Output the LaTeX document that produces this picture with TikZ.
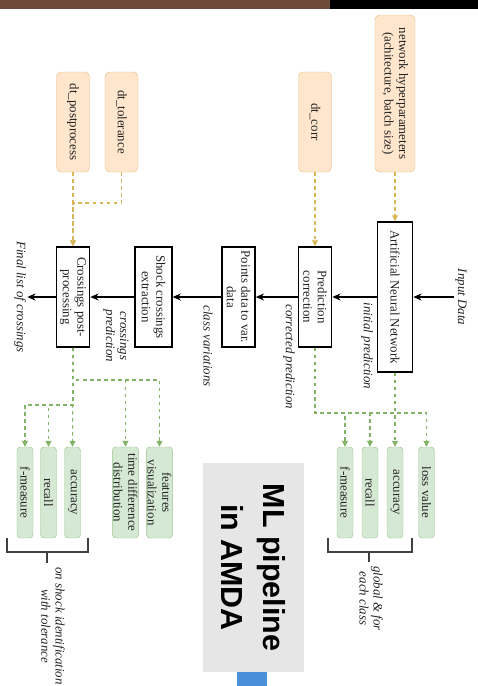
\documentclass[tikz,border=0pt]{standalone}
\usepackage{fontspec}
\setmainfont{Liberation Serif}
\newfontfamily\titlefont{Liberation Sans}
\usepackage{tikz}
\usepackage{xcolor}
\usetikzlibrary{arrows.meta, positioning, calc}
\definecolor{cBand}{HTML}{6E4A38}
\definecolor{cParam}{HTML}{FFE6CC}
\definecolor{cParamLine}{HTML}{E9BE86}
\definecolor{cParamEdge}{HTML}{D6B656}
\definecolor{cMetric}{HTML}{D5E8D4}
\definecolor{cMetricLine}{HTML}{9CC58E}
\definecolor{cMetricEdge}{HTML}{82B366}
\definecolor{cTitle}{HTML}{E6E6E6}
\definecolor{cBlue}{HTML}{4A8FD8}
\definecolor{cText}{HTML}{222222}
\tikzset{
	stage/.style ={rectangle, draw=black, line width=1.4pt, fill=white, rotate=-90, minimum width=3cm, minimum height=0.99cm, align=center, inner sep=1pt, text=cText},
	param/.style ={rectangle, rounded corners=4pt, draw=cParamLine, fill=cParam, rotate=-90, minimum width=3cm, minimum height=0.99cm, align=center, inner sep=1pt, text=cText},
	metric/.style={rectangle, rounded corners=3pt, draw=cMetricLine, fill=cMetric, rotate=-90, minimum width=2.73cm, minimum height=0.48cm, align=center, inner sep=1pt, text=cText},
	lbl/.style   ={rotate=-90, align=center, font=\fontsize{11}{12}\selectfont\itshape, text=cText, inner sep=1pt},
	title/.style ={rectangle, fill=cTitle, rotate=-90, minimum width=6.27cm, minimum height=3.03cm, align=center, font=\titlefont\bfseries\fontsize{26}{36}\selectfont},
	% connectors
	flow/.style  ={-{Stealth[length=7pt, width=6pt]}, line width=1.4pt},
	cfg/.style   ={-{Triangle[length=5pt, width=5pt]}, dash pattern=on 3pt off 3pt, draw=cParamEdge, line width=0.9pt},
	met/.style   ={-{Triangle[length=5pt, width=5pt]}, dash pattern=on 3pt off 3pt, draw=cMetricEdge, line width=0.9pt},
	brk/.style   ={draw=black!75, line width=1.2pt},
}
\begin{document}
\begin{tikzpicture}[x=0.03cm, y=-0.03cm, font=\fontsize{11}{12.5}\selectfont]
	\clip (0,0) rectangle (478,686);
	\useasboundingbox (0,0) rectangle (478,686);
	% band of the slide
	\fill[cBand] (0,0) rectangle (330,9);
	\fill[black] (330,0) rectangle (478,9);

	% main pipeline
	\node[lbl] (in) at (461,297) {Input Data};
	\node[stage, minimum width=4.5cm, minimum height=1.05cm] (ann) at (395,297) {Artificial Neural Network};
	\node[stage] (pred) at (315,297) {Prediction\\correction};
	\node[stage] (pts) at (238.5,297) {Points data to var.\\data};
	\node[stage, minimum height=1.1cm] (shock) at (153.5,297) {Shock crossings\\extraction};
	\node[stage] (cpp) at (73,297) {Crossings post-\\processing};
	\node[lbl] (out) at (20,297) {Final list of crossings};

	\draw[flow] (in) -- (ann);
	\draw[flow] (ann) -- (pred);
	\draw[flow] (pred) -- (pts);
	\draw[flow] (pts) -- (shock);
	\draw[flow] (shock) -- (cpp);
	\draw[flow] (cpp) -- (out);

	\node[lbl] at (367,346) {initial prediction};
	\node[lbl] at (289,357) {corrected prediction};
	\node[lbl] at (208,346) {class variations};
	\node[lbl] at (116,336) {crossings\\prediction};

	% parameters
	\node[param, minimum width=4.71cm, minimum height=1.2cm] (net) at (395,93.5) {network hyperparameters\\(achitecture, batch size)};
	\node[param] (corr) at (315,122) {dt\_corr};
	\node[param] (tol) at (121.5,122) {dt\_tolerance};
	\node[param] (post) at (73,122) {dt\_postprocess};
	\coordinate (j1) at (73,203);

	\draw[cfg] (net) -- (ann);
	\draw[cfg] (corr) -- (pred);
	\draw[cfg] (post) -- (cpp);
	\draw[cfg] (tol.east) |- (j1) -- (cpp);

	% metrics of the network
	\node[metric] (fm1) at (345,492.5) {f-measure};
	\node[metric] (rec1) at (370,492.5) {recall};
	\node[metric] (acc1) at (395,492.5) {accuracy};
	\node[metric] (loss) at (426.5,492.5) {loss value};
	\coordinate (rbus) at (315,413);

	\draw[met] (pred.east) -- (rbus) -| (fm1.west);
	\draw[met] (pred.east) -- (rbus) -| (rec1.west);
	\draw[met] (pred.east) -- (rbus) -| (acc1.west);
	\draw[met] (ann.east) -- (ann.east |- rbus) -| (loss.west);

	% metrics of the crossings
	\node[metric] (fm2) at (25,492.5) {f-measure};
	\node[metric] (rec2) at (48.5,492.5) {recall};
	\node[metric] (acc2) at (72.5,492.5) {accuracy};
	\node[metric, minimum height=0.75cm] (tdd) at (125.5,492.5) {time difference\\distribution};
	\node[metric, minimum height=0.75cm] (feat) at (159.5,492.5) {features\\visualization};
	\coordinate (lbus1) at (73,380);
	\coordinate (lbus2) at (73,405);

	\draw[met] (cpp.east) -- (lbus1) -| (tdd.west);
	\draw[met] (cpp.east) -- (lbus1) -| (feat.west);
	\draw[met] (cpp.east) -- (lbus2) -| (fm2.west);
	\draw[met] (cpp.east) -- (lbus2) -| (rec2.west);
	\draw[met] (cpp.east) -- (acc2.west);

	% brackets
	\draw[brk] (328,538) -- (328,552) -- (412,552) -- (412,538);
	\draw[brk] (369,552) -- (369,562);
	\node[lbl, anchor=west] at (371,565) {global \& for\\each class};
	\draw[brk] (7,538) -- (7,552) -- (88,552) -- (88,538);
	\draw[brk] (47,552) -- (47,563);
	\node[lbl, anchor=west] at (53,566) {on shock identification\\with tolerance};

	% title
	\node[title] (ttl) at (253.5,567.5) {ML pipeline\\in AMDA};
	\fill[cBlue] (237,672) rectangle (267,686);
\end{tikzpicture}
\end{document}
